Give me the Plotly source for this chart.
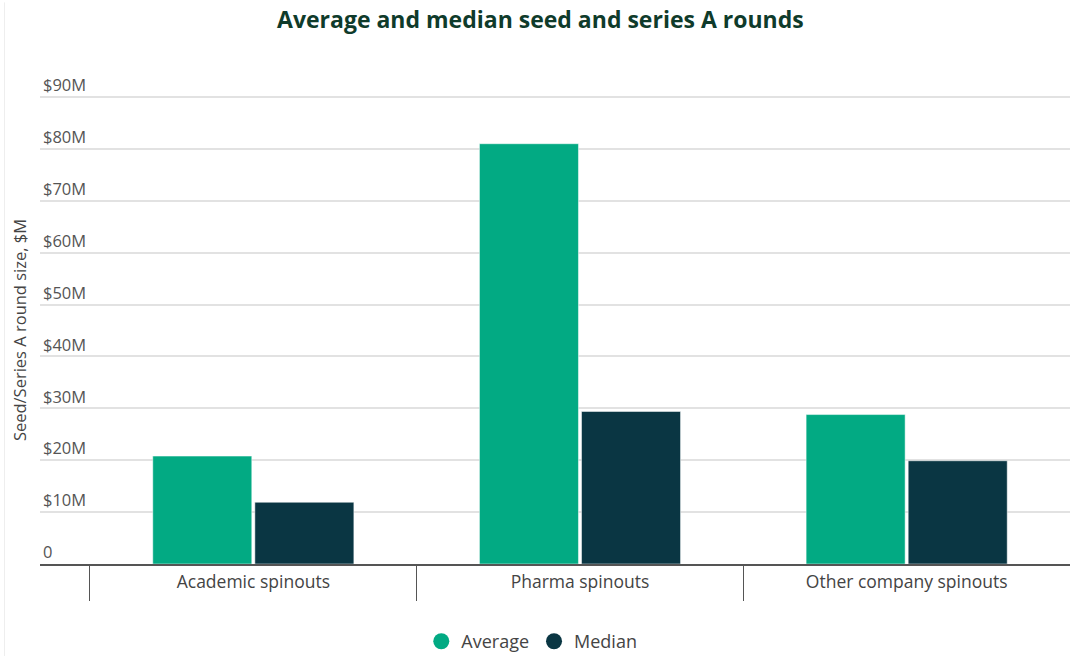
import plotly.graph_objects as go

categories = ["Academic spinouts", "Pharma spinouts", "Other company spinouts"]
average_m = [20.8, 81.0, 28.8]
median_m = [11.9, 29.4, 19.9]
tick_vals = [0, 10, 20, 30, 40, 50, 60, 70, 80, 90]
tick_text = ["0", "$10M", "$20M", "$30M", "$40M", "$50M", "$60M", "$70M", "$80M", "$90M"]

GREEN = "#02AA83"
NAVY = "#0A3643"
FONT = "Open Sans, Noto Sans, sans-serif"

fig = go.Figure()
fig.add_trace(go.Bar(name="Average", x=categories, y=average_m, marker=dict(color=GREEN, line=dict(color="#ffffff", width=0.5)), showlegend=False))
fig.add_trace(go.Bar(name="Median", x=categories, y=median_m, marker=dict(color=NAVY, line=dict(color="#ffffff", width=0.5)), showlegend=False))

# legend entries drawn as round markers
for name, col in [("Average", GREEN), ("Median", NAVY)]:
    fig.add_trace(go.Scatter(x=[None], y=[None], mode="markers", name=name,
                             marker=dict(color=col, size=22, symbol="circle")))

fig.update_layout(
    width=1070, height=656,
    margin=dict(l=40, r=0, t=96, b=92),
    paper_bgcolor="white", plot_bgcolor="white",
    barmode="group", bargap=0.375, bargroupgap=0.03,
    font=dict(family=FONT, color="#444444", size=16),
    title=dict(text="<b>Average and median seed and series A rounds</b>",
               x=0.505, xanchor="center", y=0.97, yanchor="middle",
               font=dict(family=FONT, size=23, color="#0F3B2B")),
    legend=dict(orientation="h", x=0.497, xanchor="center", xref="container",
                y=0.022, yanchor="middle", yref="container",
                font=dict(size=18, color="#444444"), itemwidth=30),
    shapes=[dict(type="line", xref="paper", yref="paper", x0=-0.0345, x1=-0.0345,
                 y0=-0.2, y1=1.2, line=dict(color="#eeeeee", width=1))],
)

fig.update_xaxes(
    range=[-0.653, 2.5], showline=True, linecolor="#555555", linewidth=2,
    ticks="outside", tickson="boundaries", ticklen=35, tickcolor="#555555", tickwidth=1,
    ticklabelstandoff=1, tickfont=dict(size=17.5, color="#444444"), showgrid=False,
)
fig.update_yaxes(
    range=[0, 90.2], tickvals=tick_vals, ticktext=tick_text,
    ticklabelposition="inside top", ticklabeloverflow="allow",
    tickfont=dict(size=16.5, color="#555555"),
    showgrid=True, gridcolor="#e2e2e2", gridwidth=1.5, zeroline=False,
    title=dict(text="Seed/Series A round size, $M", font=dict(size=16.5, color="#444444"), standoff=12),
)

fig.write_html("out.html")
